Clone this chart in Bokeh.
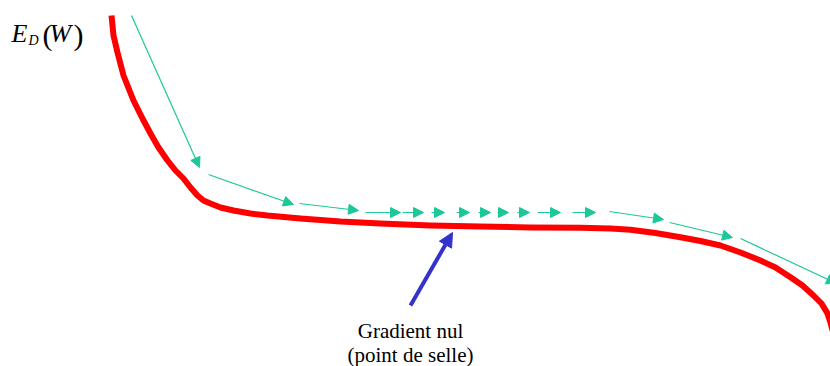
from bokeh.plotting import figure
from bokeh.models import Range1d, Arrow, NormalHead, ColumnDataSource
from bokeh.core.properties import value
from bokeh.embed import file_html
from bokeh.resources import INLINE

# Error curve E_D(W) (screen-like coordinates, y downward)
curve_x = [111, 113, 117, 123, 133, 142, 150, 158, 167, 175, 183, 190, 197, 203, 210, 220, 233,
           250, 267, 300, 340, 380, 430, 480, 530, 580, 610, 630, 655, 680, 700, 720, 740, 760,
           775, 790, 802, 813, 821, 827, 830, 832]
curve_y = [15, 35, 52, 75, 100, 118, 133, 147, 160, 170, 178, 187, 195, 200, 203, 207, 210,
           213, 215, 218, 221, 223, 225, 226, 227, 227.3, 228, 229.3, 232.5, 236.7, 240.5, 245,
           252, 260, 267, 276.7, 285, 295, 303, 313, 322, 330]

# Gradient descent steps
step_x0 = [131, 208, 299, 365, 402, 431, 456, 478, 497, 517, 537, 572, 609, 669, 740]
step_y0 = [15, 174, 203, 212, 212, 212, 212, 212, 212, 212, 212, 212, 211, 222, 238]
step_x1 = [199, 293, 358, 400, 423, 444, 469, 490, 508, 529, 560, 595, 663, 732, 836]
step_y1 = [167, 204, 210, 212, 212, 212, 212, 212, 212, 212, 212, 212, 219, 237, 283]

# Annotation arrow
note_x0, note_y0, note_x1, note_y1 = [410], [305], [452], [232]
note_lines = ["Gradient nul", "(point de selle)"]
note_lx = [410, 410]
note_ly = [330, 354]

GREEN = "#1cc899"
RED = "#ff0000"
BLUE = "#3333cc"
SERIF = "Liberation Serif"

p = figure(width=830, height=366, output_backend="svg", toolbar_location=None,
           x_range=Range1d(0, 830), y_range=Range1d(366, 0), min_border=0)
p.axis.visible = False
p.grid.visible = False
p.outline_line_color = None
p.background_fill_color = "white"
p.border_fill_color = "white"

p.line(curve_x, curve_y, line_color=RED, line_width=6, line_join="round")

src = ColumnDataSource(dict(x0=step_x0, y0=step_y0, x1=step_x1, y1=step_y1))
p.add_layout(Arrow(x_start="x0", y_start="y0", x_end="x1", y_end="y1", source=src,
                   line_color=GREEN, line_width=1.2,
                   end=NormalHead(size=10, fill_color=GREEN, line_color=GREEN, line_width=1)))

nsrc = ColumnDataSource(dict(x0=note_x0, y0=note_y0, x1=note_x1, y1=note_y1))
p.add_layout(Arrow(x_start="x0", y_start="y0", x_end="x1", y_end="y1", source=nsrc,
                   line_color=BLUE, line_width=4,
                   end=NormalHead(size=14, fill_color=BLUE, line_color=BLUE, line_width=1)))

p.text(note_lx, note_ly, text=note_lines, text_font=value(SERIF), text_font_size="21px",
       text_align="center", text_baseline="middle", text_color="black")

# Axis label E_D(W)
lab_x = [11, 28, 42, 49, 73]
lab_y = [33, 40, 34, 33, 34]
lab_t = ["E", "D", "(", "W", ")"]
lab_size = ["26px", "14px", "30px", "26px", "30px"]
lab_style = ["italic", "italic", "normal", "italic", "normal"]
lsrc = ColumnDataSource(dict(x=lab_x, y=lab_y, t=lab_t, s=lab_size, st=lab_style))
p.text("x", "y", text="t", source=lsrc, text_font=value(SERIF), text_font_size="s",
       text_font_style="st", text_align="left", text_baseline="alphabetic", text_color="black")

open("out.html", "w").write(file_html(p, INLINE))
